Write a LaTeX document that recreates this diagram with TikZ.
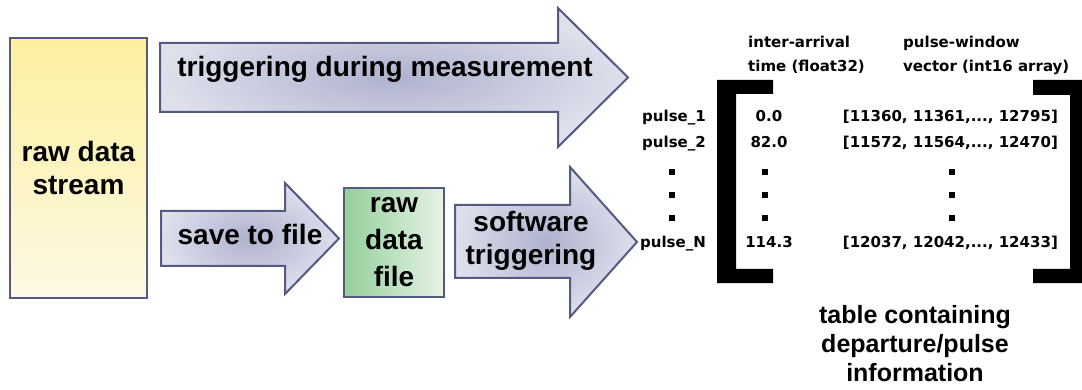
\documentclass[tikz,border=0pt]{standalone}
\usepackage{fontspec}
\setmainfont{Liberation Sans}
\newfontfamily\tablefont{DejaVu Sans}
\usetikzlibrary{shadings}

\definecolor{edgeslate}{RGB}{84,90,130}
\definecolor{arrowlight}{RGB}{222,224,236}
\definecolor{arrowdark}{RGB}{174,178,206}
\definecolor{streamtop}{RGB}{252,240,158}
\definecolor{streambottom}{RGB}{253,248,228}
\definecolor{fileleft}{RGB}{148,207,156}
\definecolor{fileright}{RGB}{230,243,230}

\begin{document}
\begin{tikzpicture}[
    x=1pt, y=-1pt,
    bigtext/.style={font=\fontsize{28}{33}\selectfont\bfseries, align=center, inner sep=0pt},
    tabtext/.style={font=\tablefont\fontsize{15}{24}\selectfont\bfseries, inner sep=0pt},
    blockarrow/.style={draw=edgeslate, line width=2pt, line join=miter, inner color=arrowdark, outer color=arrowlight},
    streambox/.style={rectangle, draw=edgeslate, line width=2pt, top color=streamtop, bottom color=streambottom, minimum width=137pt, minimum height=260pt, bigtext},
    filebox/.style={rectangle, draw=edgeslate, line width=2pt, left color=fileleft, right color=fileright, minimum width=100pt, minimum height=109pt, bigtext, font=\fontsize{28}{37}\selectfont\bfseries},
    bracket/.style={fill=black},
    dotmark/.style={rectangle, fill=black, minimum size=6.5pt, inner sep=0pt}
]
\useasboundingbox (0,0) rectangle (1082,390);

% Raw data stream
\node[streambox] (stream) at (78.5,168) {raw data\\stream};

% Block arrows
\draw[blockarrow] (160,43) -- (558,43) -- (558,8) -- (628,77.5) -- (558,147) -- (558,112) -- (160,112) -- cycle;
\draw[blockarrow] (161,211) -- (285,211) -- (285,183) -- (339,238.5) -- (285,294) -- (285,266) -- (161,266) -- cycle;
\draw[blockarrow] (455,205) -- (570,205) -- (570,167) -- (637,242) -- (570,317) -- (570,278) -- (455,278) -- cycle;

\node[bigtext, anchor=base] (measlabel) at (385,77) {triggering during measurement};
\node[bigtext, anchor=base] (savelabel) at (250,245) {save to file};
\node[bigtext] (softlabel) at (531,241) {software\\triggering};

% Raw data file
\node[filebox] (rawfile) at (394,242.5) {raw\\data\\file};

% Table brackets
\fill[bracket] (717,80) -- (773,80) -- (773,94) -- (736,94) -- (736,269) -- (773,269) -- (773,283) -- (717,283) -- cycle;
\fill[bracket] (1082,80) -- (1033,80) -- (1033,95) -- (1070,95) -- (1070,269) -- (1033,269) -- (1033,283) -- (1082,283) -- cycle;

% Column headers
\node[tabtext, anchor=west, align=left] (timehead) at (748,55) {inter-arrival\\time (float32)};
\node[tabtext, anchor=west, align=left] (vechead) at (903,55) {pulse-window\\vector (int16 array)};

% Table rows
\node[tabtext, anchor=base east] (pulse1) at (706,122) {pulse\_1};
\node[tabtext, anchor=base] (time1) at (769,122) {0.0};
\node[tabtext, anchor=base east] (vec1) at (1058,122) {[11360, 11361,..., 12795]};

\node[tabtext, anchor=base east] (pulse2) at (706,148) {pulse\_2};
\node[tabtext, anchor=base] (time2) at (769,148) {82.0};
\node[tabtext, anchor=base east] (vec2) at (1058,148) {[11572, 11564,..., 12470]};

\node[tabtext, anchor=base east] (pulseN) at (706,248) {pulse\_N};
\node[tabtext, anchor=base] (timeN) at (769,248) {114.3};
\node[tabtext, anchor=base east] (vecN) at (1058,248) {[12037, 12042,..., 12433]};

% Vertical ellipses
\node[dotmark] (pdot1) at (672,172) {};
\node[dotmark] (pdot2) at (672,195) {};
\node[dotmark] (pdot3) at (672,218) {};
\node[dotmark] (tdot1) at (765,172) {};
\node[dotmark] (tdot2) at (765,195) {};
\node[dotmark] (tdot3) at (765,218) {};
\node[dotmark] (vdot1) at (952,172) {};
\node[dotmark] (vdot2) at (952,195) {};
\node[dotmark] (vdot3) at (952,218) {};

% Caption
\node[font=\fontsize{25}{29}\selectfont\bfseries, align=center, inner sep=0pt] (caption) at (915,344)
    {table containing\\departure/pulse\\information};

\end{tikzpicture}
\end{document}
